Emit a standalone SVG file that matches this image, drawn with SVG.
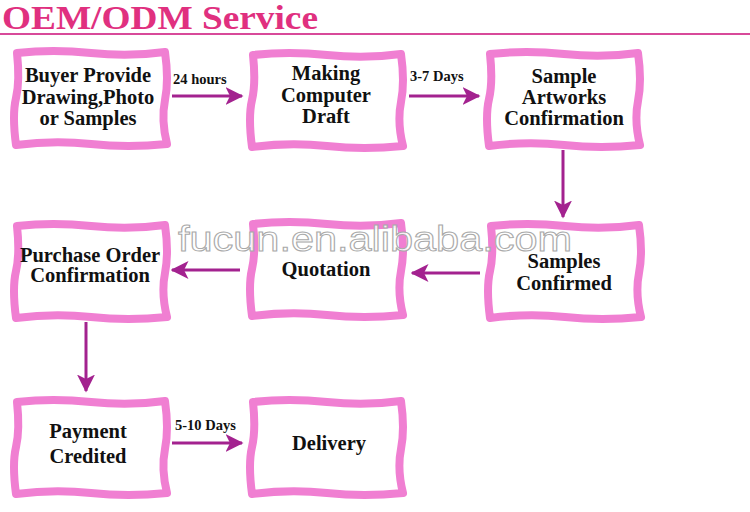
<svg xmlns="http://www.w3.org/2000/svg" xmlns:xlink="http://www.w3.org/1999/xlink" width="750" height="512" viewBox="0 0 750 512">
<style>
.box{fill:#fff;stroke:#f07fd2;stroke-width:8;stroke-linejoin:round}
.t{font-family:"Liberation Serif",serif;font-weight:bold;font-size:20.5px;fill:#111;text-anchor:middle}
.lbl{font-family:"Liberation Serif",serif;font-weight:bold;font-size:14.5px;fill:#111}
.c{stroke:#a3228f;stroke-width:3;fill:none}
.wm{font-family:"Liberation Sans",sans-serif;font-size:35px;fill:#fff;fill-opacity:0.85;stroke:#a9a9a9;stroke-width:1}
</style>
<defs>
<path id="frame" d="M4,3 Q40,-1 78,3 T152,2 Q156,30 152,50 T154,94 Q115,98 78,94 T3,95 Q-1,65 3,48 T4,3 Z"/>
<marker id="ah" markerWidth="6" markerHeight="6" viewBox="0 0 12 12" refX="11" refY="6" orient="auto" markerUnits="strokeWidth">
<path d="M0,0 L12,6 L0,12 L3,6 Z" fill="#a3228f"/>
</marker>
</defs>
<rect width="750" height="512" fill="#fff"/>
<g id="title">
<text x="2" y="29" textLength="316" lengthAdjust="spacingAndGlyphs" style="font-family:'Liberation Serif',serif;font-weight:bold;font-size:33px;fill:#e0307f">OEM/ODM Service</text>
<line x1="0" y1="34" x2="750" y2="34" stroke="#d84a9a" stroke-width="2"/>
</g>
<g id="connectors">
<line class="c" x1="172" y1="96" x2="242" y2="96" marker-end="url(#ah)"/>
<line class="c" x1="409" y1="96" x2="479" y2="96" marker-end="url(#ah)"/>
<line class="c" x1="563" y1="150" x2="563" y2="217" marker-end="url(#ah)"/>
<line class="c" x1="480" y1="273" x2="412" y2="273" marker-end="url(#ah)"/>
<line class="c" x1="240" y1="270" x2="172" y2="270" marker-end="url(#ah)"/>
<line class="c" x1="86" y1="322" x2="86" y2="391" marker-end="url(#ah)"/>
<line class="c" x1="172" y1="443" x2="242" y2="443" marker-end="url(#ah)"/>
<text class="lbl" x="173" y="84">24 hours</text>
<text class="lbl" x="410" y="81">3-7 Days</text>
<text class="lbl" x="175" y="430">5-10 Days</text>
</g>
<g id="n1"><use xlink:href="#frame" class="box" transform="translate(13,50)"/>
<text class="t" x="88" y="82">Buyer Provide</text><text class="t" x="88" y="104">Drawing,Photo</text><text class="t" x="88" y="125">or Samples</text></g>
<g id="n2"><use xlink:href="#frame" class="box" transform="translate(249,52)"/>
<text class="t" x="326" y="80">Making</text><text class="t" x="326" y="102">Computer</text><text class="t" x="326" y="123">Draft</text></g>
<g id="n3"><use xlink:href="#frame" class="box" transform="translate(486,51)"/>
<text class="t" x="564" y="83">Sample</text><text class="t" x="564" y="104">Artworks</text><text class="t" x="564" y="125">Confirmation</text></g>
<g id="n4"><use xlink:href="#frame" class="box" transform="translate(13,223)"/>
<text class="t" x="90" y="262">Purchase Order</text><text class="t" x="90" y="282">Confirmation</text></g>
<g id="n5"><use xlink:href="#frame" class="box" transform="translate(249,221)"/>
<text class="t" x="326" y="276">Quotation</text></g>
<g id="n6"><use xlink:href="#frame" class="box" transform="translate(487,223)"/>
<text class="t" x="564" y="268">Samples</text><text class="t" x="564" y="290">Confirmed</text></g>
<g id="n7"><use xlink:href="#frame" class="box" transform="translate(13,399)"/>
<text class="t" x="88" y="438">Payment</text><text class="t" x="88" y="463">Credited</text></g>
<g id="n8"><use xlink:href="#frame" class="box" transform="translate(249,399)"/>
<text class="t" x="329" y="450">Delivery</text></g>
<text class="wm" x="178" y="251" textLength="394" lengthAdjust="spacingAndGlyphs">fucun.en.alibaba.com</text>
</svg>
